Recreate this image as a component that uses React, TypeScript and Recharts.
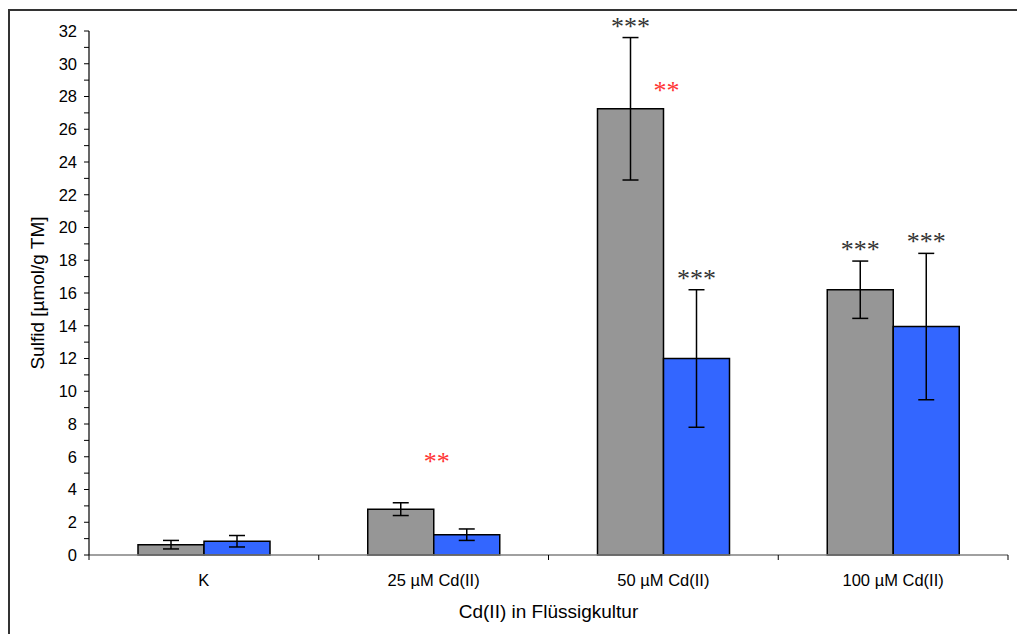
import React from 'react';
import {
  BarChart,
  Bar,
  XAxis,
  YAxis,
  ErrorBar,
  LabelList,
  ReferenceDot,
} from 'recharts';

// Sulfid content, two series per Cd(II) treatment
const CATEGORIES = ['K', '25 µM Cd(II)', '50 µM Cd(II)', '100 µM Cd(II)'];
const GRAY_VALUES = [0.63, 2.8, 27.25, 16.2];
const GRAY_ERR = [0.26, 0.39, 4.35, 1.75];
const BLUE_VALUES = [0.84, 1.24, 12.0, 13.95];
const BLUE_ERR = [0.35, 0.35, 4.2, 4.47];
const GRAY_STARS = ['', '', '***', '***'];
const BLUE_STARS = ['', '', '***', '***'];
// red marks between the two bars of a group (text, y in data units)
const RED_STARS = [
  { cat: '25 µM Cd(II)', text: '**', y: 5.3 },
  { cat: '50 µM Cd(II)', text: '**', y: 28.0 },
];
const Y_TICKS = Array.from({ length: 33 }, (_, i) => i);

const data = CATEGORIES.map((name, i) => ({
  name,
  gray: GRAY_VALUES[i],
  grayErr: GRAY_ERR[i],
  grayStars: GRAY_STARS[i],
  blue: BLUE_VALUES[i],
  blueErr: BLUE_ERR[i],
  blueStars: BLUE_STARS[i],
}));

const W = 1017;
const H = 634;
const MARGIN = { top: 31, right: 9, bottom: 49, left: 9 };
const Y_AXIS_W = 80;
const X_AXIS_H = 30;
const PLOT_LEFT = MARGIN.left + Y_AXIS_W;
const PLOT_RIGHT = W - MARGIN.right;
const PLOT_TOP = MARGIN.top;
const PLOT_BOTTOM = H - MARGIN.bottom - X_AXIS_H;
const BAND = (PLOT_RIGHT - PLOT_LEFT) / CATEGORIES.length;

const SANS = 'Arial, "Liberation Sans", Helvetica, sans-serif';
const SERIF = '"Times New Roman", "Liberation Serif", serif';

const makeStars = (values: number[], errs: number[]) => (props: any) => {
  const { x, y, width, height, value, index } = props;
  if (!value) return null;
  const v = values[index];
  const pxPerUnit = v ? height / v : 0;
  const top = y - errs[index] * pxPerUnit;
  return (
    <text
      x={x + width / 2}
      y={top - 3}
      textAnchor="middle"
      fontFamily={SERIF}
      fontSize={26}
      fill="#333"
    >
      {value}
    </text>
  );
};

const XTick = (props: any) => {
  const { x, y, payload, index } = props;
  const left = x - BAND / 2;
  return (
    <g>
      <line x1={left} y1={PLOT_BOTTOM} x2={left} y2={PLOT_BOTTOM + 5} stroke="#000" strokeWidth={1} />
      {index === CATEGORIES.length - 1 && (
        <line x1={x + BAND / 2} y1={PLOT_BOTTOM} x2={x + BAND / 2} y2={PLOT_BOTTOM + 5} stroke="#000" strokeWidth={1} />
      )}
      <text x={x} y={y + 23} textAnchor="middle" fontFamily={SANS} fontSize={16.5} fill="#000">
        {payload.value}
      </text>
    </g>
  );
};

export default function App() {
  return (
    <div style={{ position: 'fixed', left: 0, top: 0, width: W, height: H, overflow: 'hidden', background: '#fff' }}>
      <div
        style={{
          position: 'absolute',
          left: 8,
          top: 9,
          width: 1100,
          height: 700,
          border: '2px solid #333',
        }}
      />
      <div style={{ position: 'absolute', left: 0, top: 0 }}>
        <BarChart width={W} height={H} data={data} margin={MARGIN} barGap={0} barSize={66}>
          <XAxis
            dataKey="name"
            height={X_AXIS_H}
            tickLine={false}
            axisLine={{ stroke: '#808080', strokeWidth: 1.5 }}
            tick={<XTick />}
            interval={0}
            label={{
              value: 'Cd(II) in Flüssigkultur',
              position: 'insideBottom',
              offset: -33,
              fontFamily: SANS,
              fontSize: 19,
              fill: '#000',
            }}
          />
          <YAxis
            width={Y_AXIS_W}
            domain={[0, 32]}
            ticks={Y_TICKS}
            interval={0}
            tickSize={5}
            tickMargin={7}
            tickFormatter={(v) => (v % 2 === 0 ? String(v) : '')}
            tick={{ fontFamily: SANS, fontSize: 16.5, fill: '#000' }}
            tickLine={{ stroke: '#000' }}
            axisLine={{ stroke: '#000', strokeWidth: 1.2 }}
            label={{
              content: () => (
                <text
                  x={37}
                  y={(PLOT_TOP + PLOT_BOTTOM) / 2}
                  transform={`rotate(-90 37 ${(PLOT_TOP + PLOT_BOTTOM) / 2})`}
                  textAnchor="middle"
                  dominantBaseline="central"
                  fontFamily={SANS}
                  fontSize={19}
                  fill="#000"
                >
                  Sulfid [µmol/g TM]
                </text>
              ),
            }}
          />
          <Bar dataKey="gray" fill="#969696" stroke="#000" strokeWidth={1.5} isAnimationActive={false}>
            <ErrorBar dataKey="grayErr" width={8} stroke="#000" strokeWidth={1.5} />
            <LabelList dataKey="grayStars" content={makeStars(GRAY_VALUES, GRAY_ERR)} />
          </Bar>
          <Bar dataKey="blue" fill="#3366ff" stroke="#000" strokeWidth={1.5} isAnimationActive={false}>
            <ErrorBar dataKey="blueErr" width={8} stroke="#000" strokeWidth={1.5} />
            <LabelList dataKey="blueStars" content={makeStars(BLUE_VALUES, BLUE_ERR)} />
          </Bar>
          {RED_STARS.map((r) => (
            <ReferenceDot
              key={r.cat}
              x={r.cat}
              y={r.y}
              r={0}
              stroke="none"
              fill="none"
              label={{
                content: (p: any) => (
                  <text
                    x={(p.viewBox.cx ?? p.viewBox.x) + 3}
                    y={(p.viewBox.cy ?? p.viewBox.y) + 2}
                    textAnchor="middle"
                    fontFamily={SERIF}
                    fontSize={26}
                    fill="#ff3333"
                  >
                    {r.text}
                  </text>
                ),
              }}
            />
          ))}
        </BarChart>
      </div>
    </div>
  );
}
